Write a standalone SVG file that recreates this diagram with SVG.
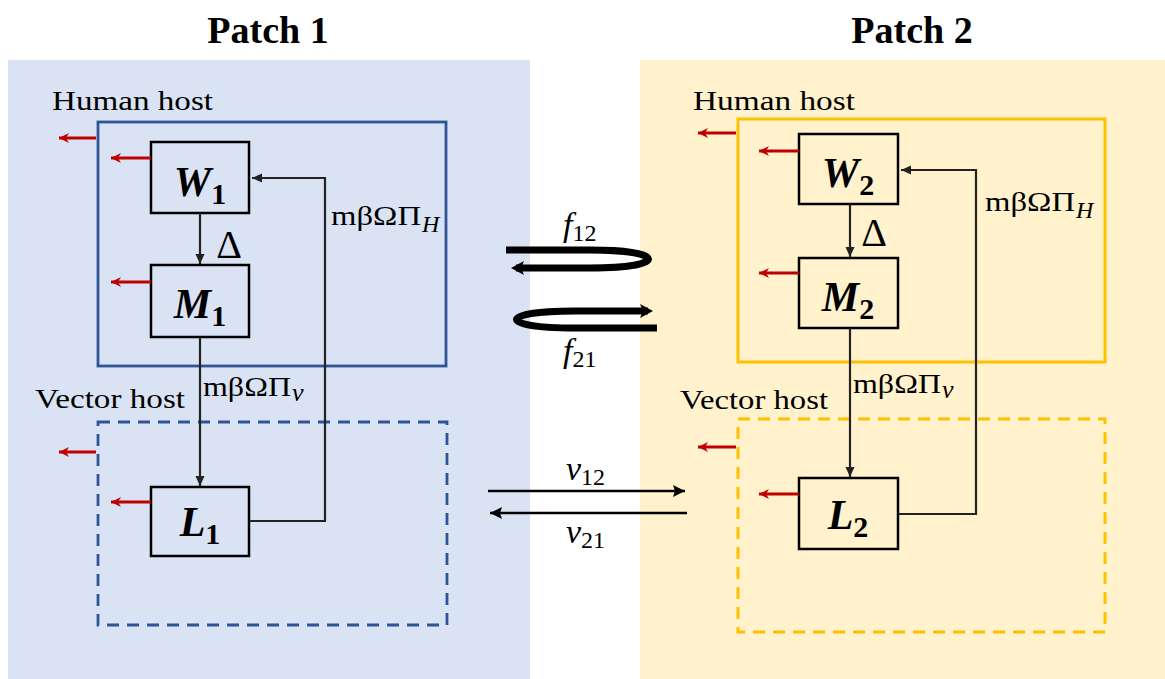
<svg xmlns="http://www.w3.org/2000/svg" width="1165" height="679" viewBox="0 0 1165 679">
<defs>
<style>
.t{font-family:"Liberation Serif","Times New Roman",serif;fill:#000}
.title{font-size:38px;font-weight:bold}
.lbl{font-size:28px}
.box{fill:none;stroke:#000;stroke-width:2.5}
.nm{font-size:42px;font-weight:bold}
.sub{font-size:30px;font-weight:bold;font-style:normal}
.red{stroke:#c00000;stroke-width:2.8;fill:none}
.blk{stroke:#222;stroke-width:2.2;fill:none}
.thick{stroke:#000;stroke-width:7;fill:none}
.mig{stroke:#000;stroke-width:2.6;fill:none}
</style>
<marker id="ar" markerUnits="userSpaceOnUse" markerWidth="12" markerHeight="12" refX="10" refY="5" orient="auto"><path d="M0,0 L10,5 L0,10 L3,5 z" fill="#c00000"/></marker>
<marker id="ab" markerUnits="userSpaceOnUse" markerWidth="12" markerHeight="12" refX="10" refY="5" orient="auto"><path d="M0,0.5 L10,5 L0,9.5 z" fill="#222"/></marker>
<marker id="at" markerUnits="userSpaceOnUse" markerWidth="16" markerHeight="16" refX="8" refY="7" orient="auto"><path d="M0,0 L13,7 L0,14 L3,7 z" fill="#000"/></marker>
<marker id="am" markerUnits="userSpaceOnUse" markerWidth="14" markerHeight="14" refX="12" refY="6" orient="auto"><path d="M0,0 L12,6 L0,12 L2,6 z" fill="#000"/></marker>
</defs>
<rect width="1165" height="679" fill="#fff"/>
<g id="patch1">
<rect x="8" y="60" width="522" height="619" fill="#dae3f3"/>
<text class="t title" x="268" y="43" text-anchor="middle">Patch 1</text>
<rect x="98" y="122" width="348" height="244" fill="none" stroke="#2f5597" stroke-width="2.8"/>
<rect x="98" y="422" width="349" height="203" fill="none" stroke="#2f5597" stroke-width="2.8" stroke-dasharray="12,8"/>
<text class="t lbl" x="52" y="110" textLength="161" lengthAdjust="spacingAndGlyphs">Human host</text>
<text class="t lbl" x="35" y="408" textLength="150" lengthAdjust="spacingAndGlyphs">Vector host</text>
</g>
<g id="patch2">
<rect x="640" y="60" width="525" height="619" fill="#fff2cc"/>
<text class="t title" x="912" y="43" text-anchor="middle">Patch 2</text>
<rect x="738" y="119" width="367" height="243" fill="none" stroke="#ffc000" stroke-width="3"/>
<rect x="738" y="419" width="367" height="213" fill="none" stroke="#ffc000" stroke-width="3" stroke-dasharray="12,8"/>
<text class="t lbl" x="693" y="110" textLength="162" lengthAdjust="spacingAndGlyphs">Human host</text>
<text class="t lbl" x="680" y="409" textLength="148" lengthAdjust="spacingAndGlyphs">Vector host</text>
</g>
<g id="W1"><rect class="box" x="151" y="142" width="98" height="71"/><text class="t nm" x="200" y="196" text-anchor="middle"><tspan font-style="italic">W</tspan><tspan class="sub" dy="8">1</tspan></text></g>
<g id="M1"><rect class="box" x="151" y="265" width="98" height="72"/><text class="t nm" x="200" y="318" text-anchor="middle"><tspan font-style="italic">M</tspan><tspan class="sub" dy="8">1</tspan></text></g>
<g id="L1"><rect class="box" x="151" y="487" width="98" height="69"/><text class="t nm" x="200" y="536" text-anchor="middle"><tspan font-style="italic">L</tspan><tspan class="sub" dy="8">1</tspan></text></g>
<g id="W2"><rect class="box" x="799" y="134" width="99" height="70"/><text class="t nm" x="848" y="187" text-anchor="middle"><tspan font-style="italic">W</tspan><tspan class="sub" dy="8">2</tspan></text></g>
<g id="M2"><rect class="box" x="799" y="258" width="99" height="70"/><text class="t nm" x="848" y="311" text-anchor="middle"><tspan font-style="italic">M</tspan><tspan class="sub" dy="8">2</tspan></text></g>
<g id="L2"><rect class="box" x="799" y="478" width="99" height="71"/><text class="t nm" x="848" y="529" text-anchor="middle"><tspan font-style="italic">L</tspan><tspan class="sub" dy="8">2</tspan></text></g>
<g id="connectors">
<path class="red" d="M96,138 H59" marker-end="url(#ar)"/>
<path class="red" d="M151,158 H111" marker-end="url(#ar)"/>
<path class="red" d="M151,282 H111" marker-end="url(#ar)"/>
<path class="red" d="M96,452 H59" marker-end="url(#ar)"/>
<path class="red" d="M151,502 H111" marker-end="url(#ar)"/>
<path class="red" d="M736,133 H698" marker-end="url(#ar)"/>
<path class="red" d="M799,151 H759" marker-end="url(#ar)"/>
<path class="red" d="M799,273 H759" marker-end="url(#ar)"/>
<path class="red" d="M736,447 H698" marker-end="url(#ar)"/>
<path class="red" d="M799,494 H759" marker-end="url(#ar)"/>
<path class="blk" d="M200,213 V264" marker-end="url(#ab)"/>
<path class="blk" d="M200,337 V486" marker-end="url(#ab)"/>
<path class="blk" d="M249,521 H325 V178 H252" marker-end="url(#ab)"/>
<path class="blk" d="M850,204 V257" marker-end="url(#ab)"/>
<path class="blk" d="M850,328 V477" marker-end="url(#ab)"/>
<path class="blk" d="M898,514 H976 V170 H901" marker-end="url(#ab)"/>
<path class="thick" d="M506,250 H590 C668,250 668,268 590,268 H516" marker-end="url(#at)"/>
<path class="thick" d="M657,328 H575 C497,328 497,311 575,311 H648" marker-end="url(#at)"/>
<path class="mig" d="M488,491 H685" marker-end="url(#am)"/>
<path class="mig" d="M687,513 H490" marker-end="url(#am)"/>
</g>
<g id="labels">
<text class="t" x="229" y="258" font-size="40" text-anchor="middle">Δ</text>
<text class="t" x="874" y="246" font-size="40" text-anchor="middle">Δ</text>
<text class="t lbl" x="331" y="225" textLength="90" lengthAdjust="spacingAndGlyphs">mβΩΠ</text><text class="t" x="422" y="232" font-size="24" font-style="italic">H</text>
<text class="t lbl" x="985" y="211" textLength="90" lengthAdjust="spacingAndGlyphs">mβΩΠ</text><text class="t" x="1076" y="218" font-size="24" font-style="italic">H</text>
<text class="t lbl" x="203" y="396" textLength="88" lengthAdjust="spacingAndGlyphs">mβΩΠ</text><text class="t" x="292" y="401" font-size="26" font-style="italic">v</text>
<text class="t lbl" x="853" y="393" textLength="88" lengthAdjust="spacingAndGlyphs">mβΩΠ</text><text class="t" x="942" y="398" font-size="26" font-style="italic">v</text>
<text class="t" x="563" y="236" font-size="34" font-style="italic">f<tspan font-style="normal" font-size="24" dy="5">12</tspan></text>
<text class="t" x="563" y="362" font-size="34" font-style="italic">f<tspan font-style="normal" font-size="24" dy="5">21</tspan></text>
<text class="t" x="566" y="480" font-size="34" font-style="italic">v<tspan font-style="normal" font-size="24" dy="5">12</tspan></text>
<text class="t" x="566" y="543" font-size="34" font-style="italic">v<tspan font-style="normal" font-size="24" dy="5">21</tspan></text>
</g>
</svg>
